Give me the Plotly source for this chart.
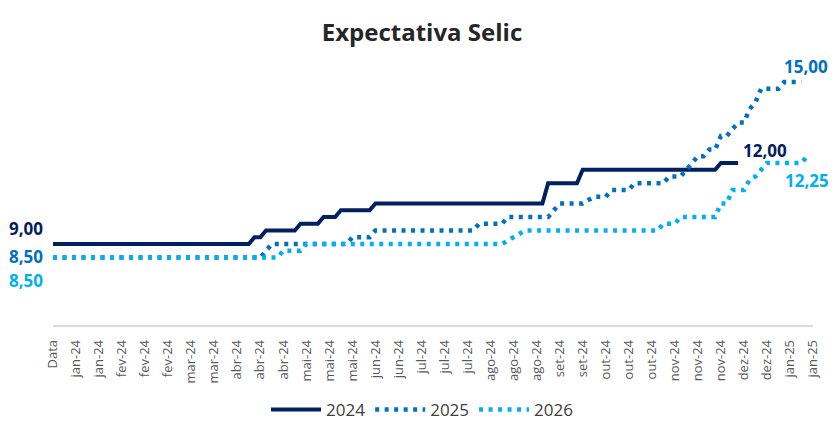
import plotly.graph_objects as go

# Tick labels (one every 4 observations)
tick_labels = ["Data", "jan-24", "jan-24", "fev-24", "fev-24", "fev-24", "mar-24", "mar-24",
               "abr-24", "abr-24", "abr-24", "mai-24", "mai-24", "mai-24", "jun-24", "jun-24",
               "jul-24", "jul-24", "jul-24", "ago-24", "ago-24", "ago-24", "set-24", "set-24",
               "out-24", "out-24", "out-24", "nov-24", "nov-24", "nov-24", "dez-24", "dez-24",
               "jan-25", "jan-25"]

# Selic expectations (% a.a.), one value per observation
selic_2024 = [
    9.00, 9.00, 9.00, 9.00, 9.00, 9.00, 9.00, 9.00, 9.00, 9.00,
    9.00, 9.00, 9.00, 9.00, 9.00, 9.00, 9.00, 9.00, 9.00, 9.00,
    9.00, 9.00, 9.00, 9.00, 9.00, 9.00, 9.00, 9.00, 9.00, 9.00,
    9.00, 9.00, 9.00, 9.00, 9.00, 9.25, 9.25, 9.50, 9.50, 9.50,
    9.50, 9.50, 9.50, 9.75, 9.75, 9.75, 9.75, 10.00, 10.00, 10.00,
    10.25, 10.25, 10.25, 10.25, 10.25, 10.25, 10.50, 10.50, 10.50, 10.50,
    10.50, 10.50, 10.50, 10.50, 10.50, 10.50, 10.50, 10.50, 10.50, 10.50,
    10.50, 10.50, 10.50, 10.50, 10.50, 10.50, 10.50, 10.50, 10.50, 10.50,
    10.50, 10.50, 10.50, 10.50, 10.50, 10.50, 11.25, 11.25, 11.25, 11.25,
    11.25, 11.25, 11.75, 11.75, 11.75, 11.75, 11.75, 11.75, 11.75, 11.75,
    11.75, 11.75, 11.75, 11.75, 11.75, 11.75, 11.75, 11.75, 11.75, 11.75,
    11.75, 11.75, 11.75, 11.75, 11.75, 11.75, 12.00, 12.00, 12.00, 12.00,
    None, None, None, None, None, None, None, None, None, None,
    None, None,
]

selic_2025 = [
    8.50, 8.50, 8.50, 8.50, 8.50, 8.50, 8.50, 8.50, 8.50, 8.50,
    8.50, 8.50, 8.50, 8.50, 8.50, 8.50, 8.50, 8.50, 8.50, 8.50,
    8.50, 8.50, 8.50, 8.50, 8.50, 8.50, 8.50, 8.50, 8.50, 8.50,
    8.50, 8.50, 8.50, 8.50, 8.50, 8.50, 8.50, 8.75, 9.00, 9.00,
    9.00, 9.00, 9.00, 9.00, 9.00, 9.00, 9.00, 9.00, 9.00, 9.00,
    9.00, 9.00, 9.25, 9.25, 9.25, 9.25, 9.50, 9.50, 9.50, 9.50,
    9.50, 9.50, 9.50, 9.50, 9.50, 9.50, 9.50, 9.50, 9.50, 9.50,
    9.50, 9.50, 9.50, 9.50, 9.75, 9.75, 9.75, 9.75, 9.75, 10.00,
    10.00, 10.00, 10.00, 10.00, 10.00, 10.00, 10.00, 10.25, 10.50, 10.50,
    10.50, 10.50, 10.50, 10.63, 10.75, 10.75, 10.75, 11.00, 11.00, 11.00,
    11.00, 11.25, 11.25, 11.25, 11.25, 11.25, 11.25, 11.50, 11.50, 11.50,
    11.75, 12.00, 12.25, 12.25, 12.50, 12.50, 13.00, 13.00, 13.25, 13.50,
    13.50, 14.00, 14.25, 14.75, 14.75, 14.75, 14.75, 15.00, 15.00, 15.00,
    15.00, None,
]

selic_2026 = [
    8.50, 8.50, 8.50, 8.50, 8.50, 8.50, 8.50, 8.50, 8.50, 8.50,
    8.50, 8.50, 8.50, 8.50, 8.50, 8.50, 8.50, 8.50, 8.50, 8.50,
    8.50, 8.50, 8.50, 8.50, 8.50, 8.50, 8.50, 8.50, 8.50, 8.50,
    8.50, 8.50, 8.50, 8.50, 8.50, 8.50, 8.50, 8.50, 8.50, 8.50,
    8.75, 8.75, 8.75, 8.75, 9.00, 9.00, 9.00, 9.00, 9.00, 9.00,
    9.00, 9.00, 9.00, 9.00, 9.00, 9.00, 9.00, 9.00, 9.00, 9.00,
    9.00, 9.00, 9.00, 9.00, 9.00, 9.00, 9.00, 9.00, 9.00, 9.00,
    9.00, 9.00, 9.00, 9.00, 9.00, 9.00, 9.00, 9.00, 9.00, 9.13,
    9.25, 9.38, 9.50, 9.50, 9.50, 9.50, 9.50, 9.50, 9.50, 9.50,
    9.50, 9.50, 9.50, 9.50, 9.50, 9.50, 9.50, 9.50, 9.50, 9.50,
    9.50, 9.50, 9.50, 9.50, 9.50, 9.50, 9.75, 9.75, 9.75, 10.00,
    10.00, 10.00, 10.00, 10.00, 10.00, 10.00, 10.50, 10.50, 11.00, 11.00,
    11.00, 11.38, 11.50, 11.75, 12.00, 12.00, 12.00, 12.00, 12.00, 12.00,
    12.00, 12.25,
]

series = [
    ("2024", selic_2024, "#002060", "solid", 4),
    ("2025", selic_2025, "#0070C0", "4px,5.5px", 4.5),
    ("2026", selic_2026, "#00B0F0", "4px,5.5px", 4.5),
]

LABEL_EVERY = 4
n_obs = len(selic_2026)
x_idx = list(range(n_obs))

FONT = "Open Sans"
W, H = 828, 422  # page body adds an 8px offset inside the 836x430 window

fig = go.Figure()
for name, vals, color, dash, width in series:
    fig.add_trace(go.Scatter(
        x=x_idx, y=vals, name=name, mode="lines",
        line=dict(color=color, width=width, dash=dash),
        connectgaps=False, hoverinfo="skip",
    ))


def fmt(v):
    return f"{v:.2f}".replace(".", ",")


def first_last(vals):
    idx = [i for i, v in enumerate(vals) if v is not None]
    return idx[0], idx[-1]

# label offsets for first and last points
first_off = {"2024": 16, "2025": 1, "2026": -23}
last_off = {"2024": ("left", 3, 13), "2025": ("center", 5, 16), "2026": ("center", 0, -24)}

for name, vals, color, dash, width in series:
    i0, i1 = first_last(vals)
    fig.add_annotation(x=i0, y=vals[i0], text=fmt(vals[i0]), showarrow=False,
                       xanchor="right", xshift=-8, yshift=first_off[name],
                       font=dict(family=FONT, size=17, color=color, weight="bold"))
    xa, xs, ys = last_off[name]
    fig.add_annotation(x=i1, y=vals[i1], text=fmt(vals[i1]), showarrow=False,
                       xanchor=xa, xshift=xs, yshift=ys,
                       font=dict(family=FONT, size=17, color=color, weight="bold"))

tickvals = [i * LABEL_EVERY for i in range(len(tick_labels))]

fig.update_layout(
    width=W, height=H,
    margin=dict(l=45, r=23, t=47, b=105),
    paper_bgcolor="white", plot_bgcolor="white",
    title=dict(text="<b>Expectativa Selic</b>", x=0.5, xanchor="center",
               y=1 - 25 / H, yanchor="middle",
               font=dict(family=FONT, size=24, color="#262626")),
    showlegend=True,
    legend=dict(orientation="h", x=0.5, xanchor="center", xref="container",
                y=(H - 402) / H, yanchor="middle", yref="container",
                font=dict(family=FONT, size=17, color="#404040"),
                itemwidth=50, traceorder="normal"),
    xaxis=dict(range=[0, tickvals[-1]], tickmode="array", tickvals=tickvals,
               ticktext=tick_labels, tickangle=-90, showgrid=False, zeroline=False,
               showline=True, linecolor="#D9D9D9", linewidth=1.5, ticks="",
               ticklabelstandoff=8, automargin=False,
               tickfont=dict(family=FONT, size=13, color="#595959")),
    yaxis=dict(range=[6, 16], visible=False, showgrid=False, zeroline=False,
               automargin=False),
)

fig.write_html("out.html")
